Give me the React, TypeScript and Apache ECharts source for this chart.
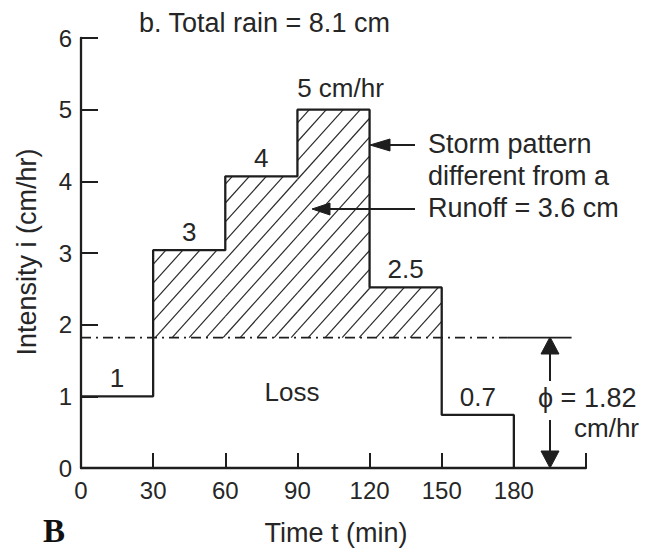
import React, { useEffect, useRef } from "react";
import * as echarts from "echarts";

// ---- data ----
const stepTimes = [0, 30, 60, 90, 120, 150, 180]; // min
const intensities = [1, 3.04, 4.07, 5, 2.52, 0.74]; // cm/hr
const blockLabels = ["1", "3", "4", "5 cm/hr", "2.5", "0.7"];
const PHI = 1.82; // cm/hr
const phiDashEnd = 177.5; // min, where the dash-dot part ends
const phiSolidEnd = 204; // min
const xTicks = { min: 0, max: 210, interval: 30, lastLabel: 180 };
const yTicks = { min: 0, max: 6, interval: 1 };

const FONT = "'Liberation Sans', Arial, Helvetica, sans-serif";
const INK = "#1e1e1e";
const TEXT = "#262626";

export default function App() {
  const ref = useRef<HTMLDivElement>(null);

  useEffect(() => {
    if (!ref.current) return;
    const chart = echarts.init(ref.current, undefined, { renderer: "svg" });

    const stepData: number[][] = intensities.map((v, i) => [stepTimes[i], v]);
    stepData.push([stepTimes[stepTimes.length - 1], 0]);

    const hatchBlocks: number[][] = [];
    intensities.forEach((v, i) => {
      if (v > PHI) hatchBlocks.push([stepTimes[i], stepTimes[i + 1], v]);
    });

    const labelData = intensities.map((v, i) => {
      const item: any = {
        value: [(stepTimes[i] + stepTimes[i + 1]) / 2, v],
        name: blockLabels[i],
      };
      if (i === 3) item.label = { offset: [7, -4] };
      return item;
    });

    const S = 17; // hatch spacing (px)
    const T = 0.9; // dx/dy of hatch lines

    const tri = (pts: number[][]) => ({
      type: "polygon",
      shape: { points: pts },
      style: { fill: INK, stroke: INK, lineWidth: 1 },
      z: 20,
    });
    const seg = (x1: number, y1: number, x2: number, y2: number, w = 2) => ({
      type: "line",
      shape: { x1, y1, x2, y2 },
      style: { stroke: INK, lineWidth: w },
      z: 20,
    });
    const txt = (
      x: number,
      y: number,
      text: string,
      size: number,
      align: string = "left",
      extra: any = {}
    ) => ({
      type: "text",
      x,
      y,
      z: 20,
      ...extra,
      style: {
        text,
        fill: TEXT,
        font: `${size}px ${FONT}`,
        align,
        verticalAlign: "middle",
      },
    });

    chart.setOption({
      animation: false,
      backgroundColor: "#ffffff",
      grid: { left: 81, right: 62, top: 38, bottom: 83 },
      xAxis: {
        type: "value",
        min: xTicks.min,
        max: xTicks.max,
        interval: xTicks.interval,
        axisLine: { show: true, lineStyle: { color: INK, width: 2.3 } },
        axisTick: { show: true, inside: true, length: 15, lineStyle: { color: INK, width: 2 } },
        axisLabel: {
          color: TEXT,
          fontSize: 24,
          fontFamily: FONT,
          margin: 10,
          formatter: (v: number) => (v <= xTicks.lastLabel ? String(v) : ""),
        },
        splitLine: { show: false },
      },
      yAxis: {
        type: "value",
        min: yTicks.min,
        max: yTicks.max,
        interval: yTicks.interval,
        axisLine: { show: true, lineStyle: { color: INK, width: 2.3 } },
        axisTick: { show: true, inside: true, length: 17, lineStyle: { color: INK, width: 2 } },
        axisLabel: { color: TEXT, fontSize: 24, fontFamily: FONT, margin: 9 },
        splitLine: { show: false },
      },
      series: [
        {
          type: "custom",
          z: 1,
          silent: true,
          data: hatchBlocks,
          encode: { x: [0, 1], y: 2 },
          renderItem: (params: any, api: any) => {
            const x0 = api.value(0);
            const x1 = api.value(1);
            const top = api.value(2);
            const pA = api.coord([x0, PHI]);
            const pB = api.coord([x1, top]);
            const L = pA[0], R = pB[0], B = pA[1], Tp = pB[1];
            const children: any[] = [];
            const cMin = L + Tp * T;
            const cMax = R + B * T;
            for (let c = Math.ceil(cMin / S) * S; c <= cMax; c += S) {
              const yA = (c - L) / T;
              const yB = (c - R) / T;
              const yLo = Math.max(yB, Tp);
              const yHi = Math.min(yA, B);
              if (yHi - yLo < 0.5) continue;
              children.push({
                type: "line",
                shape: { x1: c - yHi * T, y1: yHi, x2: c - yLo * T, y2: yLo },
                style: { stroke: "#2a2a2a", lineWidth: 1.2 },
              });
            }
            return { type: "group", children };
          },
        },
        {
          type: "line",
          z: 3,
          symbol: "none",
          silent: true,
          data: [
            [0, PHI],
            [phiDashEnd, PHI],
          ],
          lineStyle: { color: INK, width: 1.8, type: [10, 5, 2, 5] },
        },
        {
          type: "line",
          z: 3,
          symbol: "none",
          silent: true,
          data: [
            [phiDashEnd, PHI],
            [phiSolidEnd, PHI],
          ],
          lineStyle: { color: INK, width: 1.8 },
        },
        {
          type: "line",
          z: 5,
          step: "end",
          symbol: "none",
          silent: true,
          data: stepData,
          lineStyle: { color: INK, width: 2.3 },
        },
        {
          type: "scatter",
          z: 6,
          symbolSize: 0,
          silent: true,
          itemStyle: { opacity: 1 },
          data: labelData,
          label: {
            show: true,
            position: "top",
            distance: 5,
            formatter: (p: any) => p.name,
            color: TEXT,
            fontSize: 26,
            fontFamily: FONT,
            lineHeight: 26,
          },
        },
      ],
      graphic: [
        txt(139, 23, "b. Total rain = 8.1 cm", 27),
        txt(336, 533, "Time t (min)", 27, "center"),
        txt(27, 252, "Intensity i (cm/hr)", 27, "center", { rotation: Math.PI / 2 }),
        txt(292, 392, "Loss", 26, "center"),
        txt(428, 144, "Storm pattern", 27),
        txt(428, 176, "different from a", 27),
        txt(428, 208, "Runoff = 3.6 cm", 27),
        txt(538, 398, "\u03d5 = 1.82", 27),
        txt(639, 428, "cm/hr", 26, "right"),
        {
          type: "text",
          x: 43,
          y: 531,
          z: 20,
          style: {
            text: "B",
            fill: "#111",
            font: `bold 33px 'Liberation Serif', 'Times New Roman', serif`,
            align: "left",
            verticalAlign: "middle",
          },
        },
        // arrow 1 -> storm pattern edge
        seg(390, 145, 415, 145),
        tri([
          [370, 145],
          [390, 139],
          [390, 151],
        ]),
        // arrow 2 -> runoff area
        seg(330, 209, 415, 209),
        tri([
          [312, 209],
          [330, 203],
          [330, 215],
        ]),
        // phi double arrow
        seg(550, 353, 550, 381),
        seg(550, 420, 550, 452),
        tri([
          [550, 337],
          [541, 354],
          [559, 354],
        ]),
        tri([
          [550, 468],
          [541, 451],
          [559, 451],
        ]),
      ],
    });

    return () => chart.dispose();
  }, []);

  return (
    <div
      ref={ref}
      style={{ position: "fixed", left: 0, top: 0, width: 648, height: 551, background: "#fff" }}
    />
  );
}
